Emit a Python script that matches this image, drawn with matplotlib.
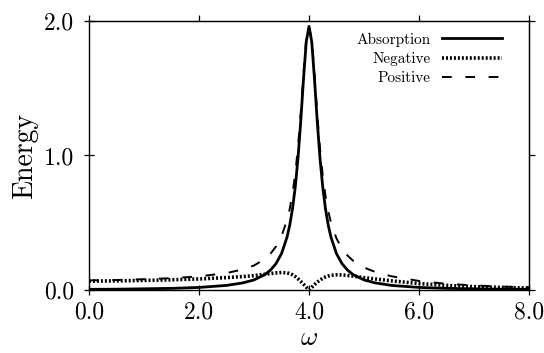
import matplotlib
matplotlib.use("Agg")
import matplotlib.pyplot as plt

plt.rcParams['font.family'] = ['cmr10', 'DejaVu Serif']
plt.rcParams['mathtext.fontset'] = 'cm'
plt.rcParams['axes.formatter.use_mathtext'] = True

# frequency grid and curve values
omega = [0.0, 0.5, 1.0, 1.5, 2.0, 2.5, 2.8, 3.0, 3.2, 3.3, 3.4, 3.5, 3.6, 3.65,
         3.7, 3.75, 3.8, 3.85, 3.9, 3.95, 4.0, 4.05, 4.1, 4.15, 4.2, 4.25, 4.3,
         4.35, 4.4, 4.5, 4.6, 4.7, 4.8, 5.0, 5.2, 5.5, 6.0, 6.5, 7.0, 7.5, 8.0]

absorption = [0.005, 0.006, 0.009, 0.012, 0.019, 0.034, 0.053, 0.075, 0.115, 0.148,
              0.196, 0.270, 0.392, 0.482, 0.603, 0.765, 0.980, 1.254, 1.568, 1.845,
              1.960, 1.845, 1.568, 1.254, 0.980, 0.765, 0.603, 0.482, 0.392, 0.270,
              0.196, 0.148, 0.115, 0.075, 0.053, 0.034, 0.019, 0.012, 0.009, 0.006,
              0.005]

negative = [0.066, 0.068, 0.071, 0.076, 0.082, 0.092, 0.100, 0.107, 0.117, 0.122,
            0.127, 0.130, 0.127, 0.122, 0.113, 0.100, 0.083, 0.064, 0.043, 0.021,
            0.000, 0.020, 0.040, 0.058, 0.074, 0.087, 0.097, 0.104, 0.109, 0.113,
            0.112, 0.108, 0.103, 0.092, 0.082, 0.068, 0.048, 0.034, 0.025, 0.019,
            0.015]

positive = [0.071, 0.074, 0.080, 0.088, 0.101, 0.126, 0.153, 0.182, 0.232, 0.270,
            0.323, 0.400, 0.519, 0.604, 0.716, 0.865, 1.063, 1.318, 1.611, 1.866,
            1.960, 1.865, 1.608, 1.312, 1.054, 0.852, 0.700, 0.586, 0.501, 0.383,
            0.308, 0.256, 0.218, 0.167, 0.135, 0.102, 0.067, 0.046, 0.034, 0.025,
            0.020]

xticks = [0.0, 2.0, 4.0, 6.0, 8.0]
yticks = [0.0, 1.0, 2.0]

fig = plt.figure(figsize=(5.44, 3.53), dpi=100)
ax = fig.add_axes([0.1636, 0.1785, 0.8088, 0.762])

ax.plot(omega, absorption, color='black', lw=2.0, label='Absorption')
ax.plot(omega, negative, color='black', lw=2.6, linestyle=(0, (0.55, 0.55)),
        label='Negative')
ax.plot(omega, positive, color='black', lw=1.4, linestyle=(0, (5, 7)),
        label='Positive')

ax.set_xlim(0, 8)
ax.set_ylim(0, 2.0)
ax.set_xticks(xticks)
ax.set_yticks(yticks)
ax.set_xticklabels(['%.1f' % v for v in xticks])
ax.set_yticklabels(['%.1f' % v for v in yticks])
ax.tick_params(direction='inout', length=7, width=0.9, labelsize=17)
ax.tick_params(axis='x', pad=5)
ax.tick_params(axis='y', pad=7)
for s in ax.spines.values():
    s.set_linewidth(1.0)

# small outward ticks on the top and right frame
top = ax.secondary_xaxis('top')
top.set_xticks(xticks)
top.tick_params(direction='out', length=4, width=0.9, labeltop=False)
right = ax.secondary_yaxis('right')
right.set_yticks(yticks)
right.tick_params(direction='out', length=4, width=0.9, labelright=False)

ax.set_xlabel(r'$\omega$', fontsize=19, labelpad=2)
ax.set_ylabel('Energy', fontsize=20, labelpad=4)

ax.legend(loc='upper right', bbox_to_anchor=(0.9386, 0.957), frameon=False,
          markerfirst=False, fontsize=11, handlelength=3.9, handletextpad=0.75,
          labelspacing=0.35, borderpad=0, borderaxespad=0)

fig.savefig('out.png', dpi=100)
